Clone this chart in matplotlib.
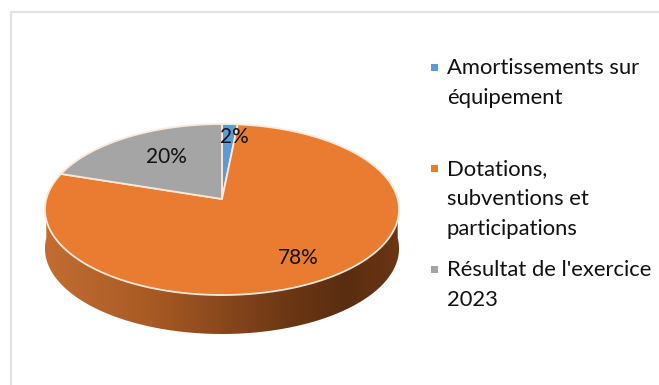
import numpy as np
import matplotlib
matplotlib.use("Agg")
import matplotlib.pyplot as plt
from matplotlib.patches import Polygon, PathPatch
from matplotlib.path import Path
from matplotlib.colors import LinearSegmentedColormap

categories = ["Amortissements sur\néquipement", "Dotations,\nsubventions et\nparticipations", "Résultat de l'exercice\n2023"]
values = [1.6, 78.4, 20.0]
labels = ["2%", "78%", "20%"]
colors = ["#5B9BD5", "#E97C30", "#A5A5A5"]

W, H = 659, 385
plt.rcParams["font.family"] = ["Lato", "DejaVu Sans"]
fig = plt.figure(figsize=(W / 100, H / 100), dpi=100)
ax = fig.add_axes([0, 0, 1, 1])
ax.set_xlim(0, W)
ax.set_ylim(H, 0)
ax.axis("off")

# chart frame
ax.add_patch(plt.Rectangle((10.5, 11.5), 700, 500, fc="white", ec="#E2E2E2", lw=1.6))

# pie projection
cx, cy, A, B, k, depth = 222, 199, 175.7, 84.2, 0.123, 39


def project(theta):
    u, v = np.sin(theta), np.cos(theta)
    w = 1 + k * v
    return cx + A * u / w, cy - B * v / w


# side wall
t = np.radians(np.linspace(90, 270, 300))
xs, ys = project(t)
wall = np.r_[np.c_[xs, ys], np.c_[xs[::-1], ys[::-1] + depth]]
cmap = LinearSegmentedColormap.from_list("wall", [(0, "#C26D32"), (0.3, "#A85A24"), (0.7, "#6A3614"), (0.85, "#5A2D10"), (1, "#6B3614")])
im = ax.imshow(np.linspace(0, 1, 256)[None, :], cmap=cmap, aspect="auto",
               extent=(xs.min(), xs.max(), H, 0), zorder=2)
clip = PathPatch(Path(wall, closed=False), transform=ax.transData, fc="none", ec="none")
ax.add_patch(clip)
im.set_clip_path(clip)
ax.set_xlim(0, W)
ax.set_ylim(H, 0)

# top faces, clockwise from 12 o'clock
edges = np.cumsum([0] + values) / sum(values) * 2 * np.pi
for a0, a1, c in zip(edges[:-1], edges[1:], colors):
    th = np.linspace(a0, a1, max(int((a1 - a0) * 80), 8))
    px, py = project(th)
    ax.add_patch(Polygon(np.r_[[[cx, cy]], np.c_[px, py]], closed=True, fc=c,
                         ec="#FBE9DA", lw=1.3, joinstyle="round", zorder=3))

# data labels
label_pos = [(234, 137), (298, 258), (166, 157)]
for (x, y), s in zip(label_pos, labels):
    ax.text(x, y, s, ha="center", va="center", fontsize=15, color="#111111", zorder=5)

# legend
leg_y = [67, 168, 269]
for yy, s, c in zip(leg_y, categories, colors):
    ax.add_patch(plt.Rectangle((430.5, yy - 3.5), 7.5, 7.5, fc=c, ec="none"))
    ax.text(447, yy - 9, s, ha="left", va="top", fontsize=15.8, color="#111111", linespacing=1.62)

fig.savefig("out.png", dpi=100, facecolor="white")
